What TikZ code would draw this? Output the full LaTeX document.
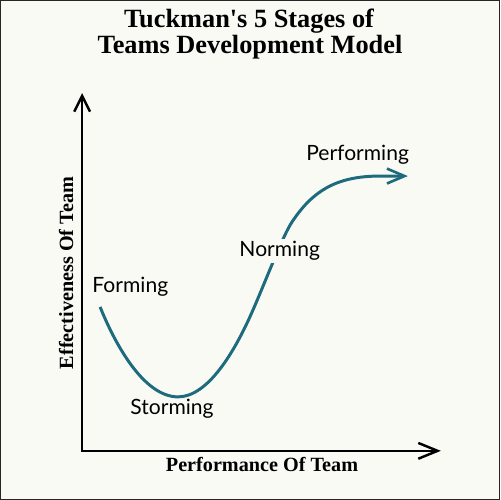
\documentclass[tikz,border=0pt]{standalone}
\usepackage{fontspec}
\setmainfont{Liberation Serif}
\newfontfamily\labelfont{Lato}
\usetikzlibrary{arrows.meta}
\definecolor{bgcol}{HTML}{FAFAF5}
\definecolor{curvecol}{HTML}{1D6B7C}
\begin{document}
\begin{tikzpicture}[x=0.02cm,y=-0.02cm,
  axisline/.style={line width=1.45pt,black,line join=miter},
  curveline/.style={line width=1.7pt,curvecol,-{Straight Barb[length=10pt,width=8.5pt,line width=1.5pt]}},
  stage/.style={font=\labelfont\fontsize{12}{14}\selectfont,inner sep=0pt,anchor=base west},
  axislabel/.style={font=\bfseries\fontsize{11.5}{13}\selectfont,inner sep=0pt,anchor=base},
  titletext/.style={font=\bfseries\fontsize{15}{14.8}\selectfont,align=center,inner sep=0pt,anchor=base}]
\fill[bgcol] (0,0) rectangle (500,500);
\draw[line width=0.8pt,black!85] (0.5,0.5) rectangle (499.5,499.5);
\useasboundingbox (0,0) rectangle (500,500);
% title
\node[titletext] (t1) at (249,27) {Tuckman\textquotesingle s 5 Stages of};
\node[titletext] (t2) at (250,53) {Teams Development Model};
% axes
\coordinate (ytip) at (82,93);
\coordinate (orig) at (82,451);
\coordinate (xtip) at (441,451);
\draw[axisline,{Straight Barb[length=9pt,width=9pt,line width=1.4pt]}-{Straight Barb[length=11pt,width=9pt,line width=1.4pt]}] (ytip) -- (orig) -- (xtip);
\node[axislabel] (xl) at (262,472) {Performance Of Team};
\node[axislabel,rotate=90] (yl) at (73,273) {Effectiveness Of Team};
% curve
\coordinate (c0) at (100,307);
\coordinate (c1) at (178,397);
\coordinate (c2) at (253,310);
\coordinate (c3) at (292,222);
\coordinate (c4) at (380,176);
\coordinate (c5) at (408,176);
\draw[curveline] (c0) .. controls (114,342) and (143,397) .. (c1)
  .. controls (208,397) and (235,351.4) .. (c2)
  .. controls (266,280.1) and (283,235.5) .. (c3)
  .. controls (312,192) and (335,176) .. (c4)
  -- (c5);
% stage labels
\node[stage] (form) at (92,293) {Forming};
\node[stage] (storm) at (130,415) {Storming};
\node[stage,fill=bgcol,inner sep=1.5pt] (norm) at (236.5,257) {Norming};
\node[stage] (perf) at (306,160) {Performing};
\end{tikzpicture}
\end{document}
